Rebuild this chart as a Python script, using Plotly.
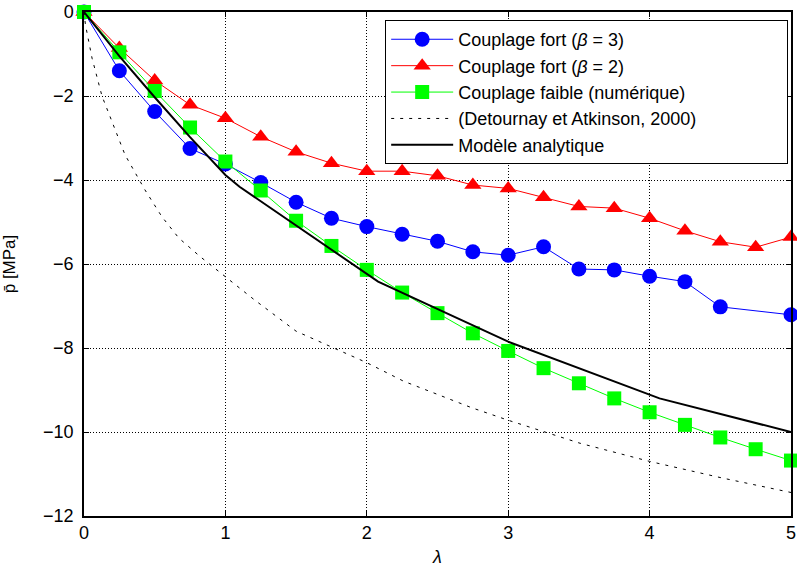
"""Pore pressure vs lambda: strong/weak coupling vs analytic models."""

import plotly.graph_objects as go

# lambda sampling of the numerical results
lam = [0, 0.25, 0.5, 0.75, 1.0, 1.25, 1.5, 1.75, 2.0, 2.25, 2.5,
       2.75, 3.0, 3.25, 3.5, 3.75, 4.0, 4.25, 4.5, 4.75, 5.0]

# Couplage fort (beta = 3) -- no point at 4.75
lam_b3 = [0, 0.25, 0.5, 0.75, 1.0, 1.25, 1.5, 1.75, 2.0, 2.25, 2.5,
          2.75, 3.0, 3.25, 3.5, 3.75, 4.0, 4.25, 4.5, 5.0]
p_b3 = [0, -1.40, -2.37, -3.25, -3.62, -4.06, -4.53, -4.91, -5.11, -5.29, -5.46,
        -5.71, -5.79, -5.59, -6.12, -6.14, -6.29, -6.42, -7.02, -7.21]

# Couplage fort (beta = 2)
p_b2 = [0, -0.86, -1.63, -2.21, -2.53, -2.97, -3.33, -3.60, -3.79, -3.79, -3.90,
        -4.12, -4.20, -4.41, -4.63, -4.67, -4.91, -5.21, -5.47, -5.60, -5.36]

# Couplage faible (numerique)
p_faible = [0, -0.96, -1.88, -2.75, -3.56, -4.25, -4.97, -5.57, -6.14, -6.68, -7.17,
            -7.65, -8.07, -8.48, -8.84, -9.20, -9.53, -9.83, -10.13, -10.41, -10.68]

# Detournay et Atkinson (2000)
lam_det = [0, 0.01, 0.057, 0.127, 0.29, 0.43, 0.55, 0.67, 0.82, 1.0, 1.2, 1.5,
           2.0, 2.26, 2.45, 2.74, 3.0, 3.51, 4.0, 4.52, 5.0]
p_det = [0, -0.3, -1.1, -2.0, -3.4, -4.23, -4.87, -5.38, -5.82, -6.3, -6.84, -7.6,
         -8.35, -8.79, -9.04, -9.42, -9.72, -10.27, -10.7, -11.1, -11.44]

# Modele analytique
lam_ana = [0, 0.25, 0.5, 0.75, 1.0, 1.1, 2.08, 3.0, 4.07, 5.0]
p_ana = [0, -1.05, -2.03, -2.98, -3.88, -4.16, -6.42, -7.85, -9.2, -10.0]

fig = go.Figure()

fig.add_trace(go.Scatter(
    x=lam_b3, y=p_b3, mode="lines+markers", name="Couplage fort (<i>β</i> = 3)",
    line=dict(color="#0000ff", width=1),
    marker=dict(symbol="circle", size=15, color="#0000ff"),
    cliponaxis=False
))
fig.add_trace(go.Scatter(
    x=lam, y=p_b2, mode="lines+markers", name="Couplage fort (<i>β</i> = 2)",
    line=dict(color="#ff0000", width=1),
    marker=dict(symbol="triangle-up", size=15, color="#ff0000"),
    cliponaxis=False
))
fig.add_trace(go.Scatter(
    x=lam, y=p_faible, mode="lines+markers", name="Couplage faible (numérique)",
    line=dict(color="#00ff00", width=1),
    marker=dict(symbol="square", size=14, color="#00ff00"),
    cliponaxis=False
))
# trailing no-break spaces widen the legend box like the original
fig.add_trace(go.Scatter(
    x=lam_det, y=p_det, mode="lines",
    name="(Detournay et Atkinson, 2000)" + "\u00a0" * 17,
    line=dict(color="black", width=1, dash="3px,6px")
))
fig.add_trace(go.Scatter(
    x=lam_ana, y=p_ana, mode="lines", name="Modèle analytique",
    line=dict(color="black", width=2)
))

axis_style = dict(
    showline=True, linecolor="black", linewidth=1.5, mirror="ticks",
    ticks="inside", ticklen=5, tickcolor="black",
    showgrid=True, gridcolor="black", griddash="1px,2px", gridwidth=1,
    zeroline=False, automargin=False, ticklabeloverflow="allow",
    tickfont=dict(size=18, color="black")
)

fig.update_layout(
    width=797, height=574,
    margin=dict(l=84, r=6, t=12, b=58),
    plot_bgcolor="white", paper_bgcolor="white",
    font=dict(family="Liberation Sans, Arial, sans-serif", color="black"),
    showlegend=True,
    legend=dict(
        x=0.996, y=0.984, xanchor="right", yanchor="top",
        bgcolor="white", bordercolor="black", borderwidth=1,
        font=dict(size=18), tracegroupgap=0, itemwidth=62
    ),
    xaxis=dict(
        range=[0, 5], dtick=1,
        title=dict(text="<i>λ</i>", font=dict(size=18), standoff=8),
        **axis_style
    ),
    yaxis=dict(
        range=[-12, 0], dtick=2, ticklabelstandoff=5,
        title=dict(text="p̄ [MPa]", font=dict(size=17), standoff=47),
        **axis_style
    ),
)

# drop the default 8px body margin so the figure fills the window
fig.write_html("out.html", config={"displayModeBar": False},
               post_script="document.body.style.margin = '0';")
